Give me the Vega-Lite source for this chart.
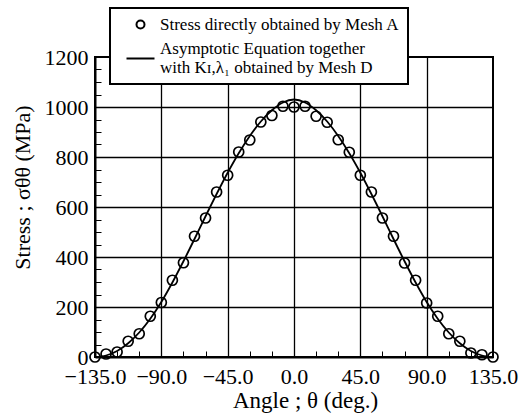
{
  "$schema": "https://vega.github.io/schema/vega-lite/v6.json",
  "width": 398,
  "height": 300,
  "autosize": {"type": "none"},
  "padding": {"left": 95, "top": 57, "right": 37, "bottom": 60},
  "background": "white",
  "config": {
    "view": {"stroke": "black", "strokeWidth": 2},
    "font": "Liberation Serif",
    "axis": {
      "labelFont": "Liberation Serif",
      "titleFont": "Liberation Serif",
      "labelColor": "black",
      "titleColor": "black",
      "titleFontWeight": "normal",
      "domainColor": "black",
      "domainWidth": 2,
      "tickColor": "black",
      "tickWidth": 1,
      "tickSize": -6,
      "labelFontSize": 22,
      "titleFontSize": 22,
      "labelOverlap": false,
      "labelFlush": false,
      "gridWidth": 1.3,
      "gridOpacity": 1
    },
    "legend": {
      "orient": "none",
      "legendX": 15,
      "legendY": -49,
      "strokeColor": "black",
      "strokeWidth": 2,
      "fillColor": "white",
      "padding": 8,
      "labelFont": "Liberation Serif",
      "labelFontSize": 17,
      "labelColor": "black",
      "labelLimit": 400,
      "symbolSize": 64,
      "symbolStrokeColor": "black",
      "symbolStrokeWidth": 2,
      "symbolFillColor": "transparent",
      "symbolOffset": 14,
      "labelOffset": 11,
      "rowPadding": 6
    }
  },
  "data": {
    "values": [
      {"series": "A", "angle": -135, "stress": 0},
      {"series": "A", "angle": -127.5, "stress": 12},
      {"series": "A", "angle": -120, "stress": 20},
      {"series": "A", "angle": -112.5, "stress": 63},
      {"series": "A", "angle": -105, "stress": 93},
      {"series": "A", "angle": -97.5, "stress": 163},
      {"series": "A", "angle": -90, "stress": 218},
      {"series": "A", "angle": -82.5, "stress": 307},
      {"series": "A", "angle": -75, "stress": 377},
      {"series": "A", "angle": -67.5, "stress": 483},
      {"series": "A", "angle": -60, "stress": 556},
      {"series": "A", "angle": -52.5, "stress": 660},
      {"series": "A", "angle": -45, "stress": 727},
      {"series": "A", "angle": -37.5, "stress": 820},
      {"series": "A", "angle": -30, "stress": 868},
      {"series": "A", "angle": -22.5, "stress": 940},
      {"series": "A", "angle": -15, "stress": 966},
      {"series": "A", "angle": -7.5, "stress": 1003},
      {"series": "A", "angle": 0, "stress": 1000},
      {"series": "A", "angle": 7.5, "stress": 1003},
      {"series": "A", "angle": 15, "stress": 963},
      {"series": "A", "angle": 22.5, "stress": 939},
      {"series": "A", "angle": 30, "stress": 869},
      {"series": "A", "angle": 37.5, "stress": 819},
      {"series": "A", "angle": 45, "stress": 727},
      {"series": "A", "angle": 52.5, "stress": 660},
      {"series": "A", "angle": 60, "stress": 556},
      {"series": "A", "angle": 67.5, "stress": 483},
      {"series": "A", "angle": 75, "stress": 376},
      {"series": "A", "angle": 82.5, "stress": 307},
      {"series": "A", "angle": 90, "stress": 216},
      {"series": "A", "angle": 97.5, "stress": 163},
      {"series": "A", "angle": 105, "stress": 93},
      {"series": "A", "angle": 112.5, "stress": 63},
      {"series": "A", "angle": 120, "stress": 16},
      {"series": "A", "angle": 127.5, "stress": 9},
      {"series": "A", "angle": 135, "stress": 0},
      {"series": "B", "angle": -135, "stress": 0},
      {"series": "B", "angle": -127.5, "stress": 6},
      {"series": "B", "angle": -120, "stress": 24},
      {"series": "B", "angle": -112.5, "stress": 55},
      {"series": "B", "angle": -105, "stress": 98},
      {"series": "B", "angle": -97.5, "stress": 153},
      {"series": "B", "angle": -90, "stress": 220},
      {"series": "B", "angle": -82.5, "stress": 298},
      {"series": "B", "angle": -75, "stress": 383},
      {"series": "B", "angle": -67.5, "stress": 472},
      {"series": "B", "angle": -60, "stress": 563},
      {"series": "B", "angle": -52.5, "stress": 652},
      {"series": "B", "angle": -45, "stress": 737},
      {"series": "B", "angle": -37.5, "stress": 815},
      {"series": "B", "angle": -30, "stress": 884},
      {"series": "B", "angle": -22.5, "stress": 942},
      {"series": "B", "angle": -15, "stress": 987},
      {"series": "B", "angle": -7.5, "stress": 1018},
      {"series": "B", "angle": 0, "stress": 1030},
      {"series": "B", "angle": 7.5, "stress": 1018},
      {"series": "B", "angle": 15, "stress": 987},
      {"series": "B", "angle": 22.5, "stress": 942},
      {"series": "B", "angle": 30, "stress": 884},
      {"series": "B", "angle": 37.5, "stress": 815},
      {"series": "B", "angle": 45, "stress": 737},
      {"series": "B", "angle": 52.5, "stress": 652},
      {"series": "B", "angle": 60, "stress": 563},
      {"series": "B", "angle": 67.5, "stress": 472},
      {"series": "B", "angle": 75, "stress": 383},
      {"series": "B", "angle": 82.5, "stress": 298},
      {"series": "B", "angle": 90, "stress": 220},
      {"series": "B", "angle": 97.5, "stress": 153},
      {"series": "B", "angle": 105, "stress": 98},
      {"series": "B", "angle": 112.5, "stress": 55},
      {"series": "B", "angle": 120, "stress": 24},
      {"series": "B", "angle": 127.5, "stress": 6},
      {"series": "B", "angle": 135, "stress": 0}
    ]
  },
  "encoding": {
    "x": {
      "field": "angle",
      "type": "quantitative",
      "scale": {"domain": [-135, 135], "nice": false, "zero": false},
      "axis": {
        "title": "Angle ; θ (deg.)",
        "titleFontSize": 23,
        "values": [-135, -120, -105, -90, -75, -60, -45, -30, -15, 0, 15, 30, 45, 60, 75, 90, 105, 120, 135],
        "labelExpr": "datum.value % 45 == 0 ? format(datum.value, '.1f') : ''",
        "grid": true,
        "gridColor": {"condition": {"test": "datum.value % 45 == 0 && abs(datum.value) < 135", "value": "black"}, "value": "transparent"},
        "labelPadding": 15,
        "titleX": 210,
        "titleY": 50,
        "titleBaseline": "alphabetic",
        "titleAlign": "center"
      }
    },
    "y": {
      "field": "stress",
      "type": "quantitative",
      "scale": {"domain": [0, 1200], "nice": false},
      "axis": {
        "title": "Stress ; σθθ (MPa)",
        "values": [0, 50, 100, 150, 200, 250, 300, 350, 400, 450, 500, 550, 600, 650, 700, 750, 800, 850, 900, 950, 1000, 1050, 1100, 1150, 1200],
        "labelExpr": "datum.value % 200 == 0 ? datum.value : ''",
        "grid": true,
        "gridColor": {"condition": {"test": "datum.value % 200 == 0 && datum.value > 0 && datum.value < 1200", "value": "black"}, "value": "transparent"},
        "labelPadding": 13,
        "titleX": -73,
        "titleY": 130,
        "titleAngle": -90,
        "titleBaseline": "middle",
        "titleAlign": "center"
      }
    }
  },
  "layer": [
    {
      "transform": [{"filter": "datum.series == 'B'"}],
      "mark": {"type": "line", "color": "black", "strokeWidth": 1.8, "interpolate": "monotone", "clip": false},
      "encoding": {}
    },
    {
      "transform": [{"filter": "datum.series == 'A'"}],
      "mark": {"type": "point", "filled": false, "stroke": "black", "strokeWidth": 1.7, "size": 100, "opacity": 1, "clip": false},
      "encoding": {
        "shape": {
          "field": "series",
          "type": "nominal",
          "scale": {"domain": ["A", "B"], "range": ["circle", "M-3.5,2.5L3.5,2.5"]},
          "legend": {
            "title": null,
            "labelExpr": "datum.value == 'B' ? ['Asymptotic Equation together', 'with Kɪ,λ₁ obtained by Mesh D'] : 'Stress directly obtained by Mesh A'"
          }
        }
      }
    }
  ]
}
